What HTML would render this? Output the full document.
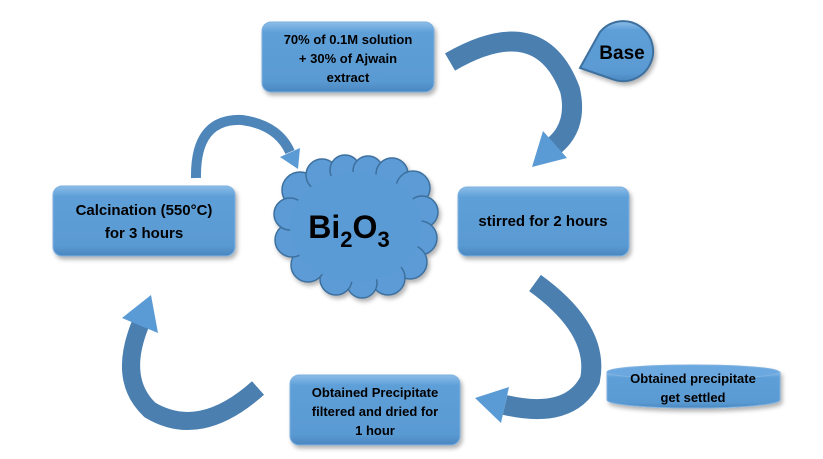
<!DOCTYPE html>
<html><head><meta charset="utf-8"><style>
body{margin:0;background:#fff;}
svg{display:block;font-family:"Liberation Sans",sans-serif;}
</style></head><body>
<svg width="823" height="459" viewBox="0 0 823 459">
<defs>
<linearGradient id="g" x1="0" y1="0" x2="0" y2="1">
<stop offset="0" stop-color="#8cbde8"/><stop offset="0.15" stop-color="#5e9fd8"/><stop offset="0.85" stop-color="#5a9ad3"/><stop offset="1" stop-color="#4a86bf"/>
</linearGradient>
<filter id="s" x="-10%" y="-10%" width="130%" height="140%"><feDropShadow dx="2" dy="3" stdDeviation="2" flood-color="#000" flood-opacity="0.3"/></filter>
</defs>
<g fill="none" stroke-linecap="butt">
<path d="M450,62 Q540,10 570,90 Q578,125 555,145" stroke="#4a7fb0" stroke-width="20"/>
<polygon points="567,158 543,131 532,167" fill="#5b9bd5"/>
<path d="M196,178 Q195,118 242,120 Q278,125 290,152" stroke="#4f86ba" stroke-width="10"/>
<polygon points="300,148 280,157 298,169" fill="#5b9bd5"/>
<path d="M535,283 Q600,330 590,380 Q570,420 505,405" stroke="#4a7fb0" stroke-width="20"/>
<polygon points="509,387 501,423 475,398" fill="#5b9bd5"/>
<path d="M258,388 Q200,440 150,410 Q118,380 140,325" stroke="#4a7fb0" stroke-width="18"/>
<polygon points="158,333 122,318 151,295" fill="#5b9bd5"/>
</g>
<g filter="url(#s)" fill="url(#g)" stroke="#7fb2e0" stroke-width="1">
<rect x="262" y="22" width="172" height="70" rx="9"/>
<rect x="458" y="187" width="171" height="69" rx="9"/>
<rect x="53" y="186" width="182" height="70" rx="9"/>
<rect x="290" y="375" width="170" height="70" rx="9"/>
<path d="M580,68 L600,32 A30,30 0 1 1 612,79 Z" stroke="#3d6f9e" stroke-width="2"/>
<path d="M607,372 L607,400 A86,8 0 0 0 780,400 L780,372 Z"/>
<ellipse cx="693" cy="372" rx="86" ry="7" fill="#6aa8df"/>
</g>
<g filter="url(#s)" fill="#5b9bd5" stroke="#3d6f9e" stroke-width="1.5">
<circle cx="300" cy="190" r="18"/><circle cx="322" cy="175" r="16"/><circle cx="345" cy="170" r="15"/>
<circle cx="368" cy="171" r="15"/><circle cx="392" cy="174" r="16"/><circle cx="413" cy="188" r="17"/>
<circle cx="422" cy="212" r="16"/><circle cx="420" cy="238" r="17"/><circle cx="410" cy="262" r="17"/>
<circle cx="388" cy="278" r="17"/><circle cx="362" cy="283" r="15"/><circle cx="336" cy="279" r="16"/>
<circle cx="308" cy="265" r="17"/><circle cx="292" cy="240" r="17"/><circle cx="290" cy="214" r="16"/>
</g>
<ellipse cx="356" cy="227" rx="66" ry="55" fill="#5b9bd5"/>
<g font-weight="bold" fill="#000" text-anchor="middle">
<text x="348" y="44" font-size="13">70% of 0.1M solution</text>
<text x="348" y="63" font-size="13">+ 30% of Ajwain</text>
<text x="348" y="82" font-size="13">extract</text>
<text x="622" y="59" font-size="19">Base</text>
<text x="543" y="226" font-size="15">stirred for 2 hours</text>
<text x="144" y="215" font-size="15">Calcination (550°C)</text>
<text x="144" y="238" font-size="15">for 3 hours</text>
<text x="375" y="397" font-size="13">Obtained Precipitate</text>
<text x="375" y="416" font-size="13">filtered and dried for</text>
<text x="375" y="435" font-size="13">1 hour</text>
<text x="693" y="383" font-size="13">Obtained precipitate</text>
<text x="693" y="402" font-size="13">get settled</text>
<text x="349" y="238" font-size="32">Bi<tspan font-size="22" dy="9">2</tspan><tspan dy="-9">O</tspan><tspan font-size="22" dy="9">3</tspan></text>
</g>
</svg>
</body></html>
